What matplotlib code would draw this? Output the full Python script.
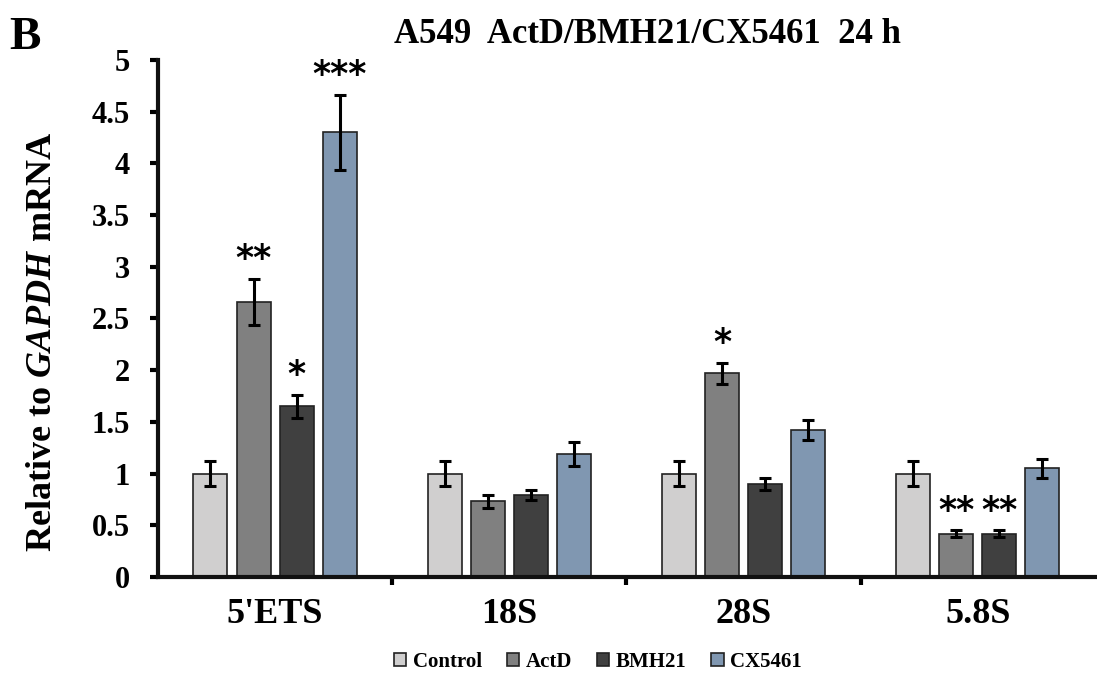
import matplotlib.pyplot as plt
import numpy as np

plt.rcParams['font.family'] = ['Liberation Serif', 'DejaVu Serif']
plt.rcParams['font.weight'] = 'bold'
plt.rcParams['mathtext.fontset'] = 'custom'
plt.rcParams['mathtext.it'] = 'Liberation Serif:italic:bold'
plt.rcParams['mathtext.rm'] = 'Liberation Serif:bold'

# データ
genes = ["5'ETS", '18S', '28S', '5.8S']
series = ['Control', 'ActD', 'BMH21', 'CX5461']
colors = ['#d0cfcf', '#808080', '#404040', '#8097b1']
control = [1.0, 1.0, 1.0, 1.0]
actd = [2.66, 0.73, 1.97, 0.42]
bmh21 = [1.65, 0.79, 0.90, 0.42]
cx5461 = [4.30, 1.19, 1.42, 1.05]
control_err = [0.12, 0.12, 0.12, 0.12]
actd_err = [0.22, 0.06, 0.10, 0.03]
bmh21_err = [0.11, 0.05, 0.06, 0.03]
cx5461_err = [0.36, 0.12, 0.10, 0.09]
stars = [['', '**', '*', '***'], ['', '', '', ''], ['', '*', '', ''], ['', '**', '**', '']]

values = [control, actd, bmh21, cx5461]
errors = [control_err, actd_err, bmh21_err, cx5461_err]

fig = plt.figure(figsize=(10.97, 6.82), dpi=100)
ax = fig.add_axes([0.144, 0.154, 0.854, 0.758])

x = np.arange(len(genes))
offsets = [-0.276, -0.092, 0.092, 0.276]
width = 0.145
for i, name in enumerate(series):
    ax.bar(x + offsets[i], values[i], width, color=colors[i], edgecolor='#222222',
           linewidth=1.2, label=name, zorder=2)
    ax.errorbar(x + offsets[i], values[i], yerr=errors[i], fmt='none', ecolor='black',
                elinewidth=2.2, capsize=4, capthick=2.2, zorder=3)
    for j in range(len(genes)):
        s = stars[j][i]
        if s:
            ax.annotate(s, (x[j] + offsets[i], values[i][j] + errors[i][j]),
                        xytext=(0, 2), textcoords='offset points', ha='center',
                        va='bottom', fontsize=25, fontweight='bold',
                        family='DejaVu Sans')

ax.set_xlim(-0.5, 3.5)
ax.set_ylim(0, 5)
ax.set_yticks(np.arange(0, 5.01, 0.5))
ax.set_yticklabels(['0', '0.5', '1', '1.5', '2', '2.5', '3', '3.5', '4', '4.5', '5'])
ax.set_xticks([0.5, 1.5, 2.5])
ax.set_xticklabels([])
ax.set_xticks(x, minor=True)
ax.set_xticklabels(genes, minor=True, fontsize=26, fontweight='bold')
ax.tick_params(axis='x', which='minor', length=0, pad=15)
ax.tick_params(axis='x', which='major', length=6, width=3, direction='out')
ax.tick_params(axis='y', length=6, width=3, labelsize=22, pad=14)
for sp in ['top', 'right']:
    ax.spines[sp].set_visible(False)
for sp in ['left', 'bottom']:
    ax.spines[sp].set_linewidth(3)
ax.spines['left'].set_color('#111111')
ax.spines['bottom'].set_color('#111111')

ax.set_ylabel(r'Relative to $\mathit{GAPDH}$ mRNA', fontsize=26, fontweight='bold')
ax.yaxis.set_label_coords(-0.106, 0.455)

fig.text(0.59, 0.949, 'A549  ActD/BMH21/CX5461  24 h', ha='center', va='center',
         fontsize=25, fontweight='bold')
fig.text(0.008, 0.945, 'B', ha='left', va='center', fontsize=34, fontweight='bold')

leg = fig.legend(loc='center', bbox_to_anchor=(0.545, 0.03), ncol=4, frameon=False,
                 handlelength=0.6, handleheight=0.6, handletextpad=0.3,
                 columnspacing=1.2, prop={'weight': 'bold', 'size': 15})

fig.savefig('out.png', dpi=100)
